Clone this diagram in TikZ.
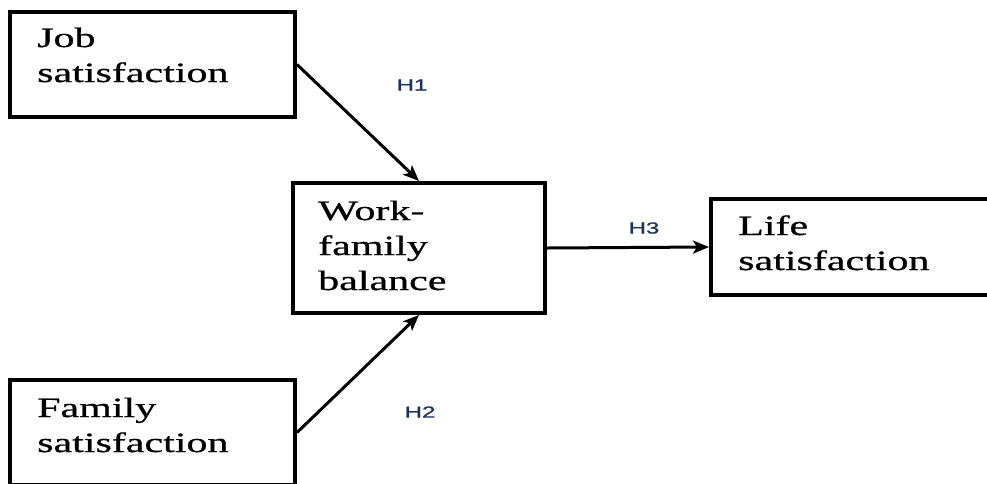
\documentclass[tikz,border=0pt]{standalone}
\usepackage{fontspec}
\setmainfont[FakeBold=0.6]{Liberation Serif}
\newfontfamily\lblfont[FakeBold=1]{Liberation Sans}
\usetikzlibrary{arrows.meta}
\definecolor{hcol}{RGB}{30,50,95}
\begin{document}
\begin{tikzpicture}[x=1pt,y=-1pt,
  box/.style={draw, line width=4pt, inner sep=0pt},
  txt/.style={anchor=base west, inner sep=0pt, font=\fontsize{28}{35}\selectfont},
  hyp/.style={inner sep=0pt, font=\lblfont\fontsize{16}{18}\selectfont, text=hcol},
  arr/.style={line width=3pt, -{Stealth[length=16pt,width=13pt,inset=4pt]}}]
\useasboundingbox (0,0) rectangle (987,483);
\clip (0,0) rectangle (987,483);
\node[box, minimum width=285pt, minimum height=105pt] (job) at (152.5,64.5) {};
\node[box, minimum width=252pt, minimum height=130pt] (wf) at (419,248) {};
\node[box, minimum width=289pt, minimum height=96pt] (life) at (855.5,247) {};
\node[box, minimum width=285pt, minimum height=105pt] (fam) at (152.5,432.5) {};
\node[txt] (jobt) at (37,47) {\scalebox{1.5}[1]{\begin{tabular}[t]{@{}l@{}}Job\\satisfaction\end{tabular}}};
\node[txt] (wft) at (318,220) {\scalebox{1.5}[1]{\begin{tabular}[t]{@{}l@{}}Work-\\family\\balance\end{tabular}}};
\node[txt] (lifet) at (738,235) {\scalebox{1.5}[1]{\begin{tabular}[t]{@{}l@{}}Life\\satisfaction\end{tabular}}};
\node[txt] (famt) at (37,417) {\scalebox{1.5}[1]{\begin{tabular}[t]{@{}l@{}}Family\\satisfaction\end{tabular}}};
\draw[arr] (job.east) -- (wf.north);
\draw[arr] (fam.east) -- (wf.south);
\draw[arr] (wf.east) -- (life.west);
\node[hyp] (h1) at (412,85) {\scalebox{1.5}[1]{H1}};
\node[hyp] (h2) at (420,412) {\scalebox{1.5}[1]{H2}};
\node[hyp] (h3) at (644,228) {\scalebox{1.5}[1]{H3}};
\end{tikzpicture}
\end{document}
